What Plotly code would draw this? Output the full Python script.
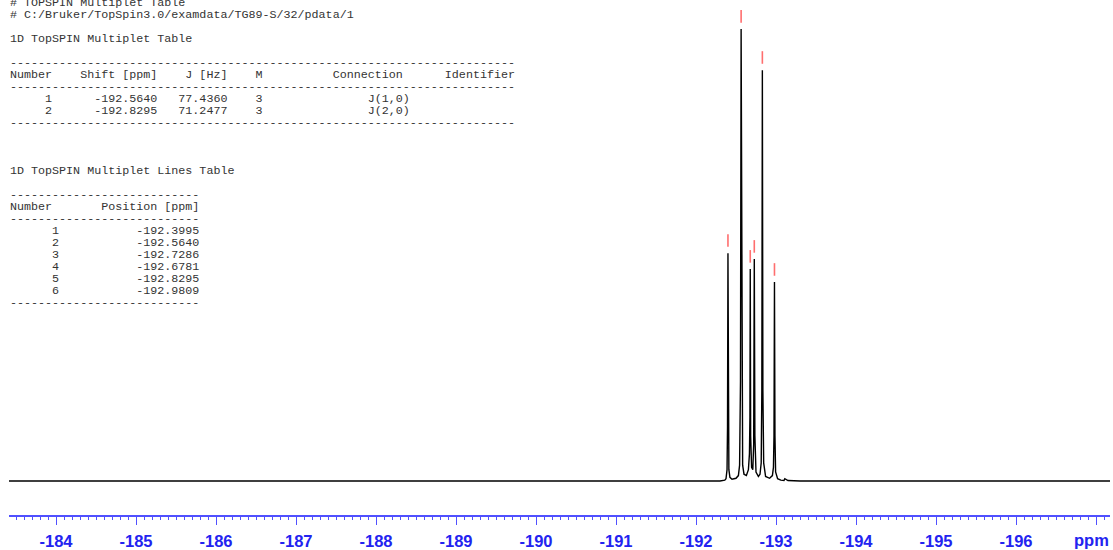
import plotly.graph_objects as go

# ---------------- data ----------------
header_lines = ["# TOPSPIN Multiplet Table",
                "# C:/Bruker/TopSpin3.0/examdata/TG89-S/32/pdata/1"]
mult_title = "1D TopSPIN Multiplet Table"
mult_numbers = [1, 2]
mult_shifts = [-192.5640, -192.8295]
mult_j = [77.4360, 71.2477]
mult_m = [3, 3]
mult_conn = ["J(1,0)", "J(2,0)"]

lines_title = "1D TopSPIN Multiplet Lines Table"
line_numbers = [1, 2, 3, 4, 5, 6]
line_positions = [-192.3995, -192.5640, -192.7286, -192.6781, -192.8295, -192.9809]
line_heights = [50.4, 100.0, 49.1, 46.9, 90.9, 44.0]

# spectrum samples (ppm, intensity)
spec_ppm = [-183.41, -190.00, -192.30, -192.36, -192.375, -192.388, -192.394, -192.3995,
            -192.405, -192.411, -192.424, -192.45, -192.50, -192.53, -192.545, -192.556,
            -192.564, -192.572, -192.583, -192.60, -192.63, -192.655, -192.668, -192.674,
            -192.6781, -192.683, -192.695, -192.71, -192.721, -192.7286, -192.736, -192.75,
            -192.78, -192.80, -192.815, -192.823, -192.8295, -192.836, -192.846, -192.87,
            -192.92, -192.955, -192.968, -192.975, -192.9809, -192.987, -192.995, -193.02,
            -193.06, -193.10, -193.11, -193.15, -193.30, -197.18]
spec_int = [0.0, 0.0, 0.0, 0.2, 0.5, 2.5, 12.0, 50.4,
            12.0, 2.5, 0.8, 0.4, 0.6, 1.2, 3.5, 22.0,
            100.0, 22.0, 3.5, 1.5, 1.2, 2.5, 6.0, 14.0,
            46.9, 10.0, 3.0, 2.5, 8.0, 49.1, 10.0, 2.0,
            1.0, 1.5, 4.0, 20.0, 90.9, 20.0, 4.0, 1.0,
            0.6, 1.2, 3.0, 10.0, 44.0, 10.0, 2.0, 0.5,
            0.2, 0.1, 0.5, 0.1, 0.0, 0.0]

x_tick_vals = [-184, -185, -186, -187, -188, -189, -190, -191, -192, -193,
               -194, -195, -196, -197]
x_tick_text = ["-184", "-185", "-186", "-187", "-188", "-189", "-190", "-191",
               "-192", "-193", "-194", "-195", "-196", ""]
x_unit_label = "ppm"

# ---------------- figure ----------------
W, H = 1113, 550
ML, MR, MT, MB = 9, 3, 0, 35
PH = H - MT - MB
PW = W - ML - MR

fig = go.Figure()
fig.add_trace(go.Scatter(x=spec_ppm, y=spec_int, mode="lines",
                         line=dict(color="black", width=1.4), hoverinfo="skip"))
fig.add_trace(go.Scatter(x=line_positions, y=[h + 2.8 for h in line_heights],
                         mode="markers",
                         marker=dict(symbol="line-ns", size=9,
                                     line=dict(color="#ff6e6e", width=1.6)),
                         hoverinfo="skip"))

# text tables
text_lines = list(header_lines) + ["", mult_title, "", "-" * 72]
text_lines.append("Number" + f"{'Shift [ppm]':>15}" + f"{'J [Hz]':>10}" + f"{'M':>5}"
                  + f"{'Connection':>20}" + f"{'Identifier':>16}")
text_lines.append("-" * 72)
for n, s, j, m, c in zip(mult_numbers, mult_shifts, mult_j, mult_m, mult_conn):
    text_lines.append(f"{n:>6}{s:>15.4f}{j:>10.4f}{m:>5}{c:>21}")
text_lines.append("-" * 72)
text_lines += ["", "", "", lines_title, "", "-" * 27]
text_lines.append("Number" + f"{'Position [ppm]':>21}")
text_lines.append("-" * 27)
for n, p in zip(line_numbers, line_positions):
    text_lines.append(f"{n:>7}{p:>20.4f}")
text_lines.append("-" * 27)

annotations = []
for k, t in enumerate(text_lines):
    if not t:
        continue
    yc = 3 + 12 * k
    annotations.append(dict(
        text=t.replace(" ", "\u00a0"), xref="paper", yref="paper",
        x=0, y=(PH - yc) / PH, xanchor="left", yanchor="middle",
        showarrow=False, borderpad=0,
        font=dict(family="Liberation Mono, Courier New, monospace", size=11.7,
                  color="#333333")))

blue = "#2323f0"
annotations.append(dict(text=x_unit_label, xref="paper", yref="paper",
                        x=(1091 - ML) / PW, y=-(540 - PH) / PH,
                        xanchor="center", yanchor="middle", showarrow=False,
                        font=dict(family="Liberation Sans, Arial", size=16.5,
                                  color=blue, weight="bold")))

fig.update_layout(
    width=W, height=H, margin=dict(l=ML, r=MR, t=MT, b=MB, autoexpand=False),
    plot_bgcolor="white", paper_bgcolor="white", showlegend=False,
    annotations=annotations,
    xaxis=dict(range=[-183.4125, -197.175], tickmode="array",
               tickvals=x_tick_vals, ticktext=x_tick_text, automargin=False,
               ticks="outside", ticklen=8, tickwidth=1.3, tickcolor="#5050ff",
               showline=True, linecolor="#5050ff", linewidth=1.5,
               showgrid=False, zeroline=False, ticklabelstandoff=2,
               tickfont=dict(family="Liberation Sans, Arial", size=16.5,
                             color=blue, weight="bold"),
               minor=dict(dtick=0.1, tick0=-184, ticks="outside", ticklen=3,
                          tickwidth=1, tickcolor="#5050ff", showgrid=False)),
    yaxis=dict(visible=False, range=[-34 / 4.52, 481 / 4.52], automargin=False),
)

fig.write_html("out.html", config={"displayModeBar": False},
               post_script="document.body.style.margin='0';document.body.style.overflow='hidden';")
